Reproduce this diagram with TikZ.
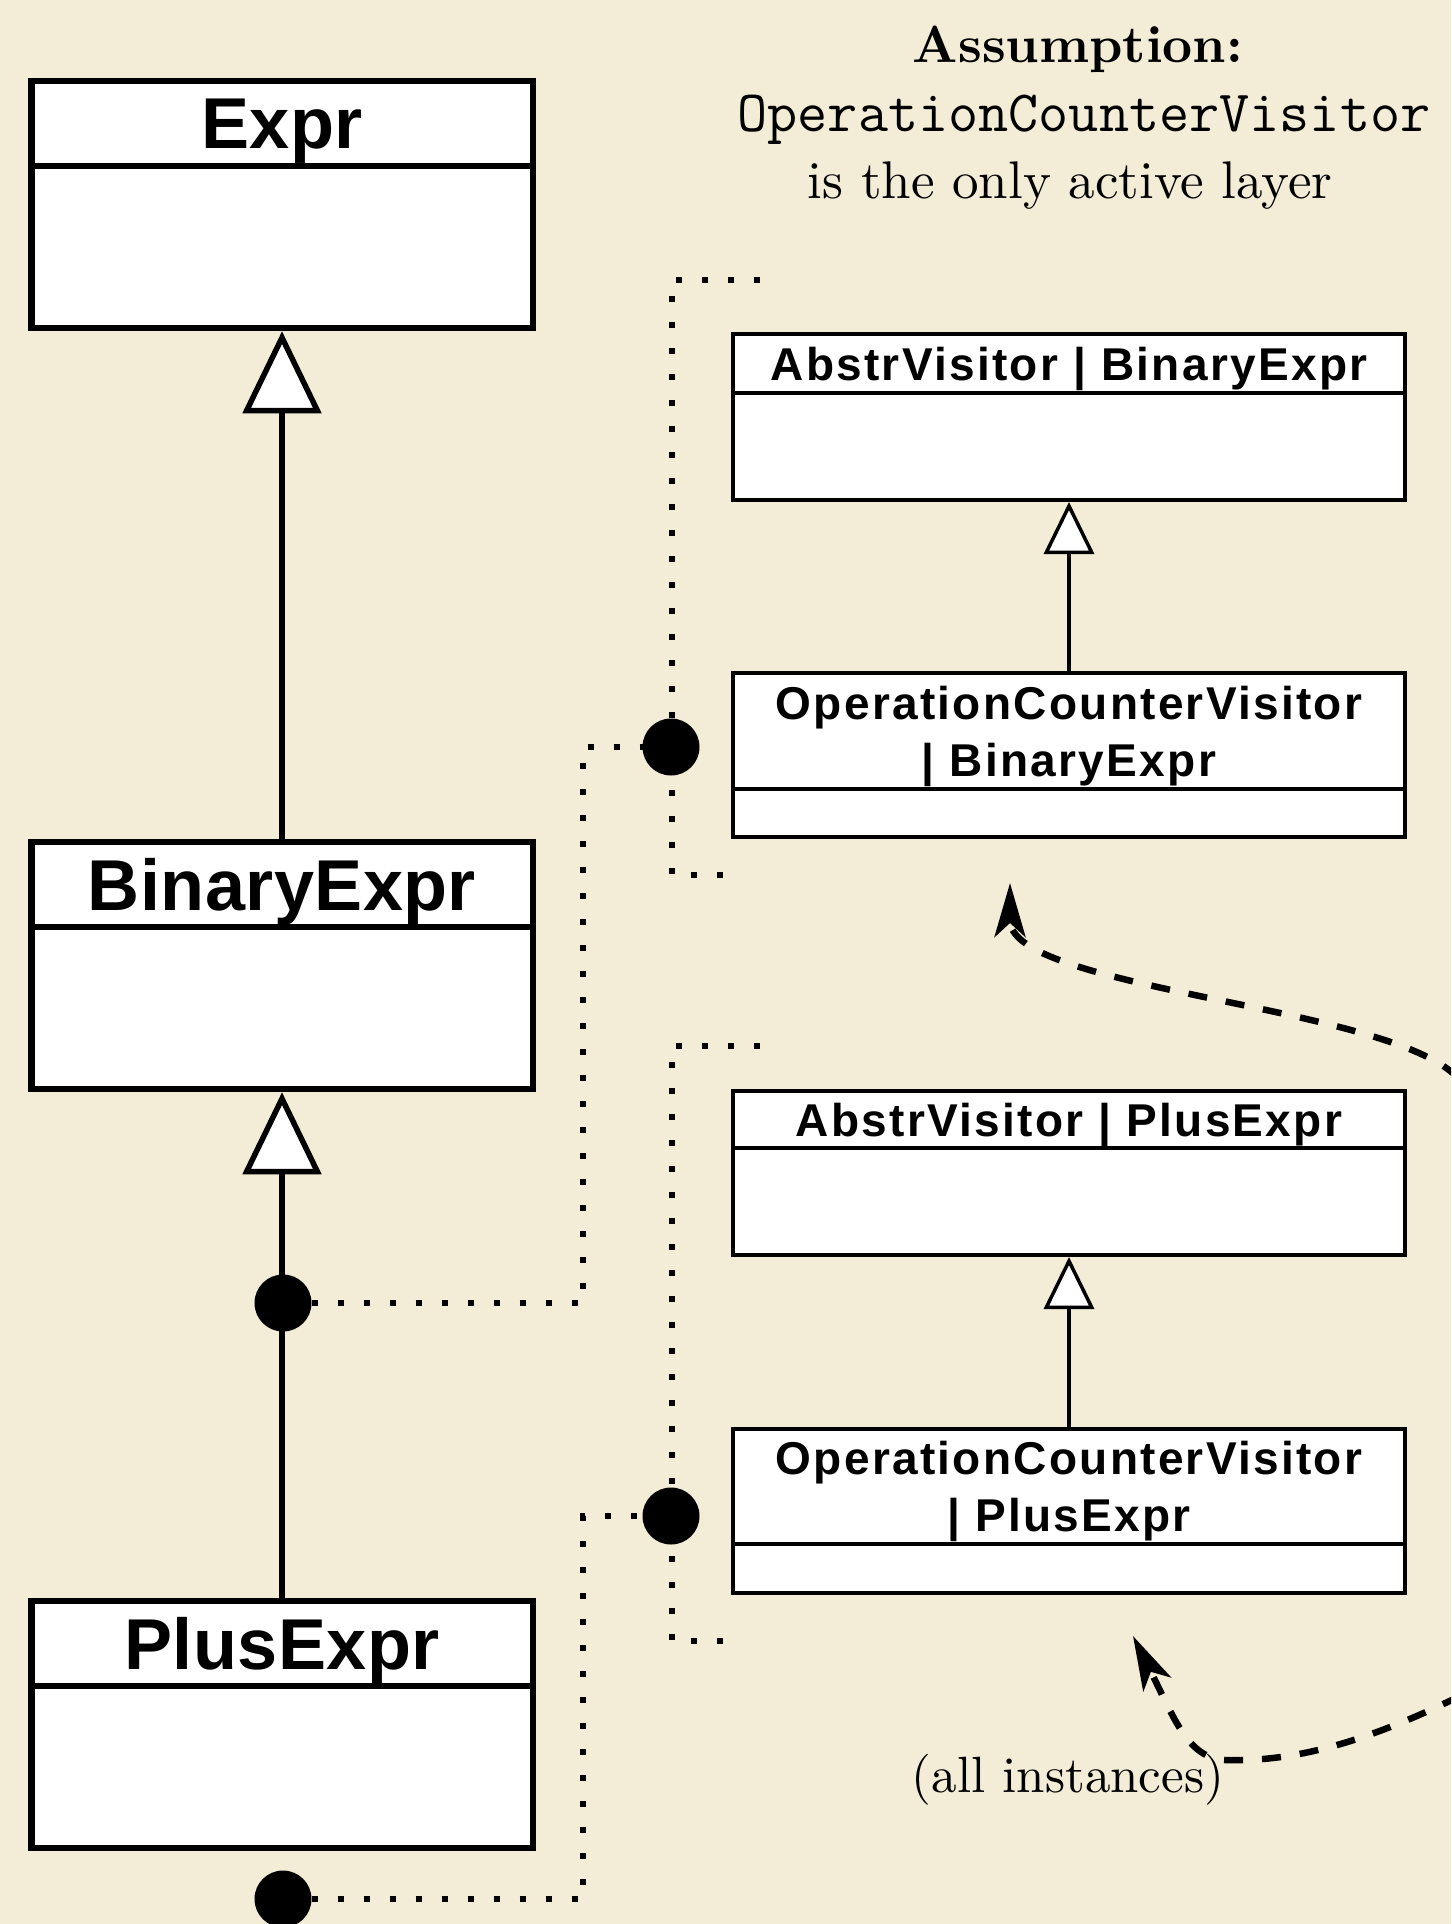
\documentclass[tikz,border=0pt]{standalone}
\usepackage{fontspec}
\setmainfont{lmroman10-regular.otf}[BoldFont=lmroman10-bold.otf]
\newfontfamily\boxsans[LetterSpace=0.6]{Liberation Sans}
\newfontfamily\boxsansr[LetterSpace=5]{Liberation Sans}
\usetikzlibrary{arrows.meta}
\definecolor{bg}{RGB}{243,236,214}
\tikzset{
  lhead/.style={draw, fill=white, line width=6.5pt, minimum width=501.5pt, minimum height=85pt,
    inner sep=0pt, outer sep=0pt, anchor=north, align=center, text depth=0pt,
    font=\boxsans\bfseries\fontsize{72}{80}\selectfont},
  lbody/.style={draw, fill=white, line width=6.5pt, minimum width=501.5pt, minimum height=162pt,
    inner sep=0pt, anchor=north, yshift=3.25pt},
  rhead/.style={draw, fill=white, line width=4pt, minimum width=672pt,
    inner sep=0pt, outer sep=0pt, anchor=north, align=center, text depth=0pt,
    font=\boxsansr\bfseries\fontsize{46}{57}\selectfont},
  rbody/.style={draw, fill=white, line width=4pt, minimum width=672pt,
    inner sep=0pt, anchor=north, yshift=2pt},
  inhL/.style={line width=5.5pt, -{Triangle[fill=white, length=82pt, width=78pt]}},
  inhR/.style={line width=3.5pt, -{Triangle[fill=white, length=52pt, width=50pt]}},
  dotnode/.style={circle, fill=black, minimum size=57pt, inner sep=0pt, outer sep=0pt},
  dotline/.style={line width=6pt, dash pattern=on 6pt off 20pt},
  dasharrow/.style={line width=6.5pt, dash pattern=on 19pt off 19pt,
    -{Stealth[length=54pt, width=31pt, inset=14pt]}},
}
\begin{document}
\begin{tikzpicture}[x=1pt,y=-1pt]
\useasboundingbox (0,0) rectangle (1451,1924);
\fill[bg] (0,0) rectangle (1451,1924);
\clip (0,0) rectangle (1451,1924);

% note
\node[font=\bfseries\fontsize{52.3}{60}\selectfont] (note1) at (1078,49) {Assumption:};
\node[font=\ttfamily\fontsize{58.5}{60}\selectfont] (note2) at (1084,120) {OperationCounterVisitor};
\node[font=\fontsize{53}{60}\selectfont] (note3) at (1070,186) {is the only active layer};

% left classes
\node[lhead] (expr) at (282,81) {Expr};
\node[lbody] (exprB) at (expr.south) {};
\node[lhead] (bin) at (282,842) {BinaryExpr};
\node[lbody] (binB) at (bin.south) {};
\node[lhead] (plus) at (282,1601) {PlusExpr};
\node[lbody] (plusB) at (plus.south) {};

% right classes
\node[rhead, minimum height=59pt] (avb) at (1069,334) {AbstrVisitor | BinaryExpr};
\node[rbody, minimum height=107pt] (avbB) at (avb.south) {};
\node[rhead, minimum height=116pt] (ocb) at (1069,673) {OperationCounterVisitor\\| BinaryExpr};
\node[rbody, minimum height=48pt] (ocbB) at (ocb.south) {};
\node[rhead, minimum height=57pt] (avp) at (1069,1091) {AbstrVisitor | PlusExpr};
\node[rbody, minimum height=107pt] (avpB) at (avp.south) {};
\node[rhead, minimum height=115pt] (ocp) at (1069,1429) {OperationCounterVisitor\\| PlusExpr};
\node[rbody, minimum height=49pt] (ocpB) at (ocp.south) {};

% layer brackets
\draw[dotline] (760,280) -- (672,280) -- (672,875) -- (740,875);
\draw[dotline] (760,1046) -- (672,1046) -- (672,1641) -- (740,1641);

% dots
\node[dotnode] (d1) at (283,1303) {};
\node[dotnode] (d2) at (671,747) {};
\node[dotnode] (d3) at (283,1899) {};
\node[dotnode] (d4) at (671,1516) {};

% inheritance
\draw[inhL] (bin.north) -- (exprB.south);
\draw[inhL] (plus.north) -- (binB.south);
\draw[inhR] (ocb.north) -- (avbB.south);
\draw[inhR] (ocp.north) -- (avpB.south);

% dotted links
\coordinate (kA) at (583,1303);
\coordinate (kB) at (583,1899);
\draw[dotline] (d1) -- (kA) |- (d2);
\draw[dotline] (d3) -- (kB) |- (d4);

% dashed arrows
\coordinate (srcA) at (1458,1078);
\coordinate (tipA) at (1010,883);
\coordinate (srcB) at (1460,1696);
\coordinate (tipB) at (1133,1636);
\draw[dasharrow] (srcA) .. controls (1390,1005) and (1010,990) .. (tipA);
\draw[dasharrow] (srcB) .. controls (1360,1745) and (1290,1762) .. (1225,1760)
  .. controls (1188,1758) and (1175,1720) .. (tipB);

\node[font=\fontsize{51}{60}\selectfont] (lbl) at (1068,1780) {(all instances)};
\end{tikzpicture}
\end{document}
